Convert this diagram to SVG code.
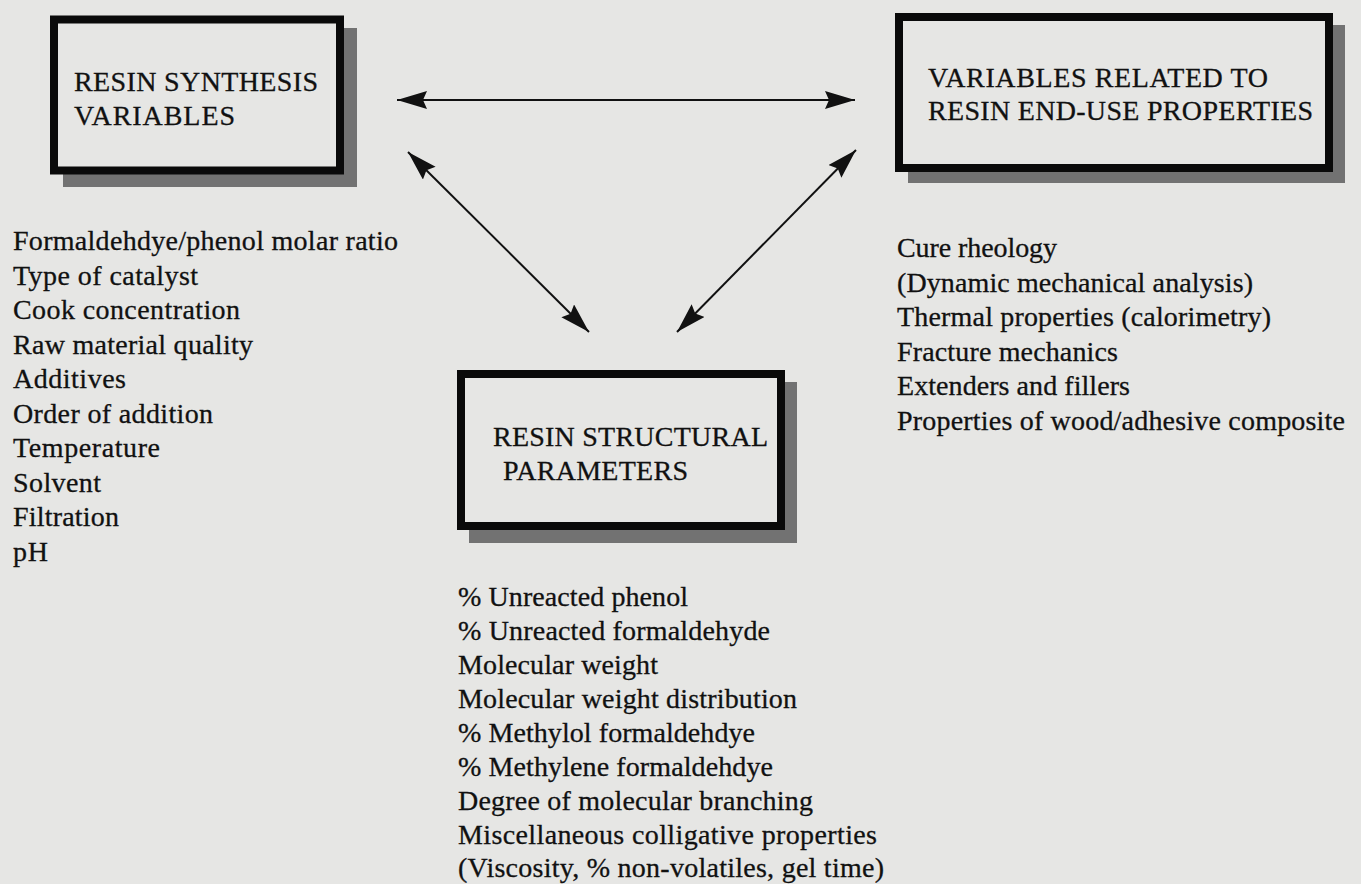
<svg xmlns="http://www.w3.org/2000/svg" width="1361" height="884" viewBox="0 0 1361 884">
<style>
.bg{fill:#e6e6e4}
.shadow{fill:#727272}
.box{fill:#e6e6e4;stroke:#0a0a0a;stroke-width:8}
.t{font-family:"Liberation Serif","Times New Roman",serif;font-size:28px;fill:#111;stroke:#111;stroke-width:0.3}
.conn{stroke:#111;stroke-width:2;fill:none;marker-start:url(#ah);marker-end:url(#ah)}
</style>
<defs>
<marker id="ah" markerUnits="userSpaceOnUse" markerWidth="32" markerHeight="20" refX="30" refY="9" orient="auto-start-reverse" viewBox="0 0 32 20">
<path d="M0,0 L30,9 L0,18 L4,9 z" fill="#111"/>
</marker>
</defs>
<rect class="bg" x="0" y="0" width="1361" height="884"/>

<g id="connectors">
<line class="conn" x1="397" y1="100" x2="855" y2="100"/>
<line class="conn" x1="408" y1="152" x2="589" y2="332"/>
<line class="conn" x1="856" y1="150" x2="677" y2="332"/>
</g>

<g id="node-synthesis">
<rect class="shadow" x="63" y="28" width="294" height="159"/>
<rect class="box" x="54" y="19.5" width="286" height="151"/>
<text class="t" x="74" y="91" textLength="244">RESIN SYNTHESIS</text>
<text class="t" x="74" y="125" textLength="161">VARIABLES</text>
</g>

<g id="node-enduse">
<rect class="shadow" x="908" y="25" width="437" height="158"/>
<rect class="box" x="899" y="17" width="430" height="151"/>
<text class="t" x="928" y="87" textLength="340">VARIABLES RELATED TO</text>
<text class="t" x="928" y="120" textLength="385">RESIN END-USE PROPERTIES</text>
</g>

<g id="node-structural">
<rect class="shadow" x="469" y="382" width="328" height="161"/>
<rect class="box" x="461" y="374" width="320" height="152"/>
<text class="t" x="493" y="446" textLength="275">RESIN STRUCTURAL</text>
<text class="t" x="503" y="480" textLength="185">PARAMETERS</text>
</g>

<g id="list-synthesis">
<text class="t" x="13" y="250" textLength="385">Formaldehdye/phenol molar ratio</text>
<text class="t" x="13" y="284.5" textLength="185">Type of catalyst</text>
<text class="t" x="13" y="319" textLength="227">Cook concentration</text>
<text class="t" x="13" y="353.5" textLength="240">Raw material quality</text>
<text class="t" x="13" y="388" textLength="113">Additives</text>
<text class="t" x="13" y="422.5" textLength="200">Order of addition</text>
<text class="t" x="13" y="457" textLength="147">Temperature</text>
<text class="t" x="13" y="491.5" textLength="88">Solvent</text>
<text class="t" x="13" y="526" textLength="106">Filtration</text>
<text class="t" x="13" y="560.5" textLength="35">pH</text>
</g>

<g id="list-enduse">
<text class="t" x="897" y="257" textLength="160">Cure rheology</text>
<text class="t" x="897" y="291.5" textLength="356">(Dynamic mechanical analysis)</text>
<text class="t" x="897" y="326" textLength="374">Thermal properties (calorimetry)</text>
<text class="t" x="897" y="360.5" textLength="221">Fracture mechanics</text>
<text class="t" x="897" y="395" textLength="233">Extenders and fillers</text>
<text class="t" x="897" y="429.5" textLength="448">Properties of wood/adhesive composite</text>
</g>

<g id="list-structural">
<text class="t" x="458" y="606" textLength="230">% Unreacted phenol</text>
<text class="t" x="458" y="640" textLength="312">% Unreacted formaldehyde</text>
<text class="t" x="458" y="674" textLength="200">Molecular weight</text>
<text class="t" x="458" y="708" textLength="339">Molecular weight distribution</text>
<text class="t" x="458" y="742" textLength="297">% Methylol formaldehdye</text>
<text class="t" x="458" y="776" textLength="315">% Methylene formaldehdye</text>
<text class="t" x="458" y="810" textLength="355">Degree of molecular branching</text>
<text class="t" x="458" y="843.5" textLength="419">Miscellaneous colligative properties</text>
<text class="t" x="458" y="877" textLength="426">(Viscosity, % non-volatiles, gel time)</text>
</g>
</svg>
